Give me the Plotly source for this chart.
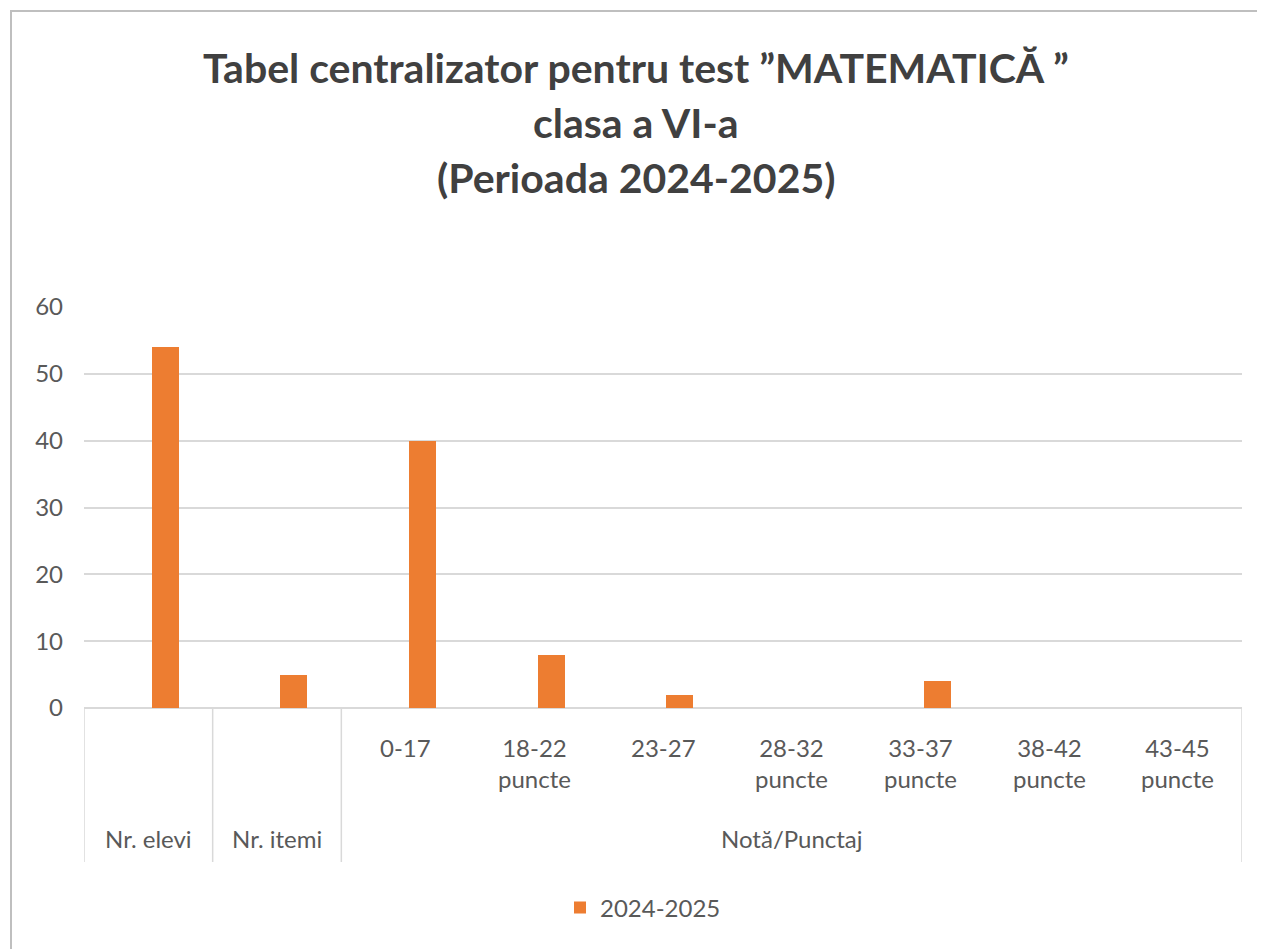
import plotly.graph_objects as go

categories = ["Nr. elevi", "Nr. itemi", "0-17", "18-22 puncte", "23-27", "28-32 puncte",
              "33-37 puncte", "38-42 puncte", "43-45 puncte"]
values = [54, 5, 40, 8, 2, 0, 4, 0, 0]
series_name = "2024-2025"
group_label = "Notă/Punctaj"
inner_labels = ["", "", "0-17", "18-22<br>puncte", "23-27", "28-32<br>puncte",
                "33-37<br>puncte", "38-42<br>puncte", "43-45<br>puncte"]
outer_labels = ["Nr. elevi", "Nr. itemi"]
title_lines = ["Tabel centralizator pentru test ”MATEMATICĂ ”", "clasa a VI-a", "(Perioada 2024-2025)"]

# page has an 8px body margin: work in page pixels, convert to figure coords
OFF = 8
W, H = 1265 - OFF, 949 - OFF
L, R, T, B = 84 - OFF, 23, 307 - OFF, 241
pw, ph = W - L - R, H - T - B

def px(x):
    return (x - OFF - L) / pw

def py(y):
    return (T + ph - (y - OFF)) / ph

ORANGE = "#ED7D31"
GRAY = "#595959"
LINE = "#D9D9D9"
FONT = "Lato"
FS = 24

fig = go.Figure()
fig.add_trace(go.Bar(
    x=list(range(len(categories))), y=values, name=series_name,
    marker=dict(color=ORANGE, line=dict(width=0)),
    width=0.21, offset=0.027,
    hovertext=categories,
))

annotations = []
for i, t in enumerate(title_lines):
    annotations.append(dict(text=f"<b>{t}</b>", x=px(636), y=py(68 + 55 * i), xref="paper", yref="paper",
                            showarrow=False, xanchor="center", yanchor="middle",
                            font=dict(family=FONT, size=41, color="#404040")))
for i, lab in enumerate(inner_labels):
    if lab:
        annotations.append(dict(text=lab, x=i, y=py(731), xref="x", yref="paper", showarrow=False,
                                xanchor="center", yanchor="top",
                                font=dict(family=FONT, size=FS, color=GRAY)))
for i, lab in enumerate(outer_labels):
    annotations.append(dict(text=lab, x=i, y=py(838), xref="x", yref="paper", showarrow=False,
                            xanchor="center", yanchor="middle",
                            font=dict(family=FONT, size=FS, color=GRAY)))
annotations.append(dict(text=group_label, x=(2 + len(categories) - 1) / 2, y=py(838), xref="x", yref="paper",
                        showarrow=False, xanchor="center", yanchor="middle",
                        font=dict(family=FONT, size=FS, color=GRAY)))

shapes = []
for xv in [-0.5, 0.5, 1.5, len(categories) - 0.5]:
    shapes.append(dict(type="line", x0=xv, x1=xv, y0=0, y1=py(862), xref="x", yref="paper",
                       line=dict(color=LINE, width=1.5)))
# chart border (only top and left edges visible in the crop)
shapes.append(dict(type="line", x0=px(10), x1=px(1270), y0=py(11), y1=py(11), xref="paper", yref="paper",
                   line=dict(color="#BFBFBF", width=2), layer="below"))
shapes.append(dict(type="line", x0=px(11), x1=px(11), y0=py(10), y1=py(955), xref="paper", yref="paper",
                   line=dict(color="#BFBFBF", width=2), layer="below"))

fig.update_layout(
    width=W, height=H,
    margin=dict(l=L, r=R, t=T, b=B),
    paper_bgcolor="white", plot_bgcolor="white",
    showlegend=True,
    legend=dict(orientation="h", x=px(643), xanchor="center", y=py(908), yanchor="middle",
                font=dict(family=FONT, size=FS, color=GRAY)),
    annotations=annotations, shapes=shapes,
    xaxis=dict(range=[-0.5, len(categories) - 0.5], showticklabels=False, showgrid=False,
               zeroline=False, showline=False, ticks=""),
    yaxis=dict(range=[0, 60], dtick=10, showgrid=True, gridcolor=LINE, gridwidth=1.5,
               zeroline=True, zerolinecolor=LINE, zerolinewidth=1.5, showline=False, ticks="",
               tickfont=dict(family=FONT, size=FS, color=GRAY), ticklabelstandoff=20),
    bargap=0,
)

fig.write_html("out.html")
